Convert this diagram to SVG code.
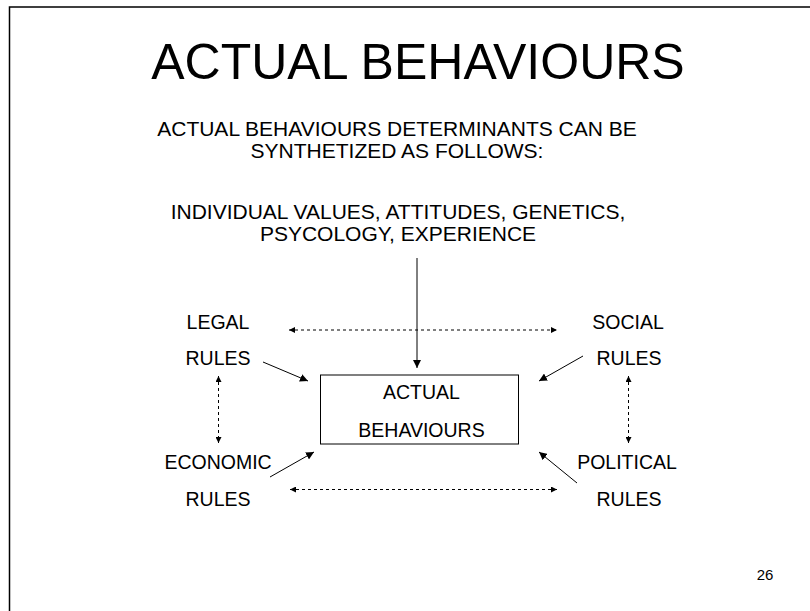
<svg xmlns="http://www.w3.org/2000/svg" width="810" height="611" viewBox="0 0 810 611">
<style>
text{font-family:"Liberation Sans",Arial,sans-serif;fill:#000}
.lbl{font-size:19.5px}
.sub{font-size:21px;text-anchor:middle}
.solid{stroke:#000;stroke-width:1;fill:none}
.dash{stroke:#000;stroke-width:1;fill:none;stroke-dasharray:3,3}
</style>
<defs>
<marker id="ah" viewBox="0 0 10 10" refX="10" refY="5" markerWidth="8" markerHeight="8" markerUnits="userSpaceOnUse" orient="auto-start-reverse">
<path d="M0,0 L10,5 L0,10 z" fill="#000"/>
</marker>
<marker id="ahs" viewBox="0 0 10 10" refX="10" refY="5" markerWidth="6" markerHeight="6" markerUnits="userSpaceOnUse" orient="auto-start-reverse">
<path d="M0,0 L10,5 L0,10 z" fill="#000"/>
</marker>
</defs>
<rect x="0" y="0" width="810" height="611" fill="#fff"/>
<rect x="9.5" y="7" width="830" height="640" fill="none" stroke="#000" stroke-width="1.5"/>
<text x="418" y="79" font-size="50" text-anchor="middle">ACTUAL BEHAVIOURS</text>
<text class="sub" x="397" y="136">ACTUAL BEHAVIOURS DETERMINANTS CAN BE</text>
<text class="sub" x="397" y="158">SYNTHETIZED AS FOLLOWS:</text>
<g id="individual">
<text class="sub" x="398" y="219">INDIVIDUAL VALUES, ATTITUDES, GENETICS,</text>
<text class="sub" x="398" y="241">PSYCOLOGY, EXPERIENCE</text>
</g>
<g id="box">
<rect x="320.5" y="375" width="198" height="69" fill="none" stroke="#000" stroke-width="1"/>
<text class="lbl" x="421.5" y="399" text-anchor="middle">ACTUAL</text>
<text class="lbl" x="421.5" y="437" text-anchor="middle">BEHAVIOURS</text>
</g>
<g id="legal"><text class="lbl" x="218" y="329" text-anchor="middle">LEGAL</text><text class="lbl" x="218" y="365" text-anchor="middle">RULES</text></g>
<g id="social"><text class="lbl" x="628" y="329" text-anchor="middle">SOCIAL</text><text class="lbl" x="629" y="365" text-anchor="middle">RULES</text></g>
<g id="economic"><text class="lbl" x="218" y="469" text-anchor="middle">ECONOMIC</text><text class="lbl" x="218" y="506" text-anchor="middle">RULES</text></g>
<g id="political"><text class="lbl" x="627" y="469" text-anchor="middle">POLITICAL</text><text class="lbl" x="629" y="506" text-anchor="middle">RULES</text></g>
<text x="765" y="580" font-size="15" text-anchor="middle">26</text>
<g id="connectors">
<line class="solid" x1="417" y1="258" x2="417" y2="368" marker-end="url(#ah)"/>
<line class="solid" x1="263" y1="362" x2="308" y2="381" marker-end="url(#ah)"/>
<line class="solid" x1="583" y1="356" x2="539" y2="381" marker-end="url(#ah)"/>
<line class="solid" x1="270" y1="477" x2="314" y2="452" marker-end="url(#ah)"/>
<line class="solid" x1="577" y1="483" x2="539" y2="452" marker-end="url(#ah)"/>
<line class="dash" x1="289" y1="330" x2="557" y2="330" marker-start="url(#ahs)" marker-end="url(#ahs)"/>
<line class="dash" x1="290" y1="489.5" x2="557" y2="489.5" marker-start="url(#ahs)" marker-end="url(#ahs)"/>
<line class="dash" x1="218.5" y1="376" x2="218.5" y2="443" marker-start="url(#ahs)" marker-end="url(#ahs)"/>
<line class="dash" x1="628.5" y1="376" x2="628.5" y2="443" marker-start="url(#ahs)" marker-end="url(#ahs)"/>
</g>
</svg>
